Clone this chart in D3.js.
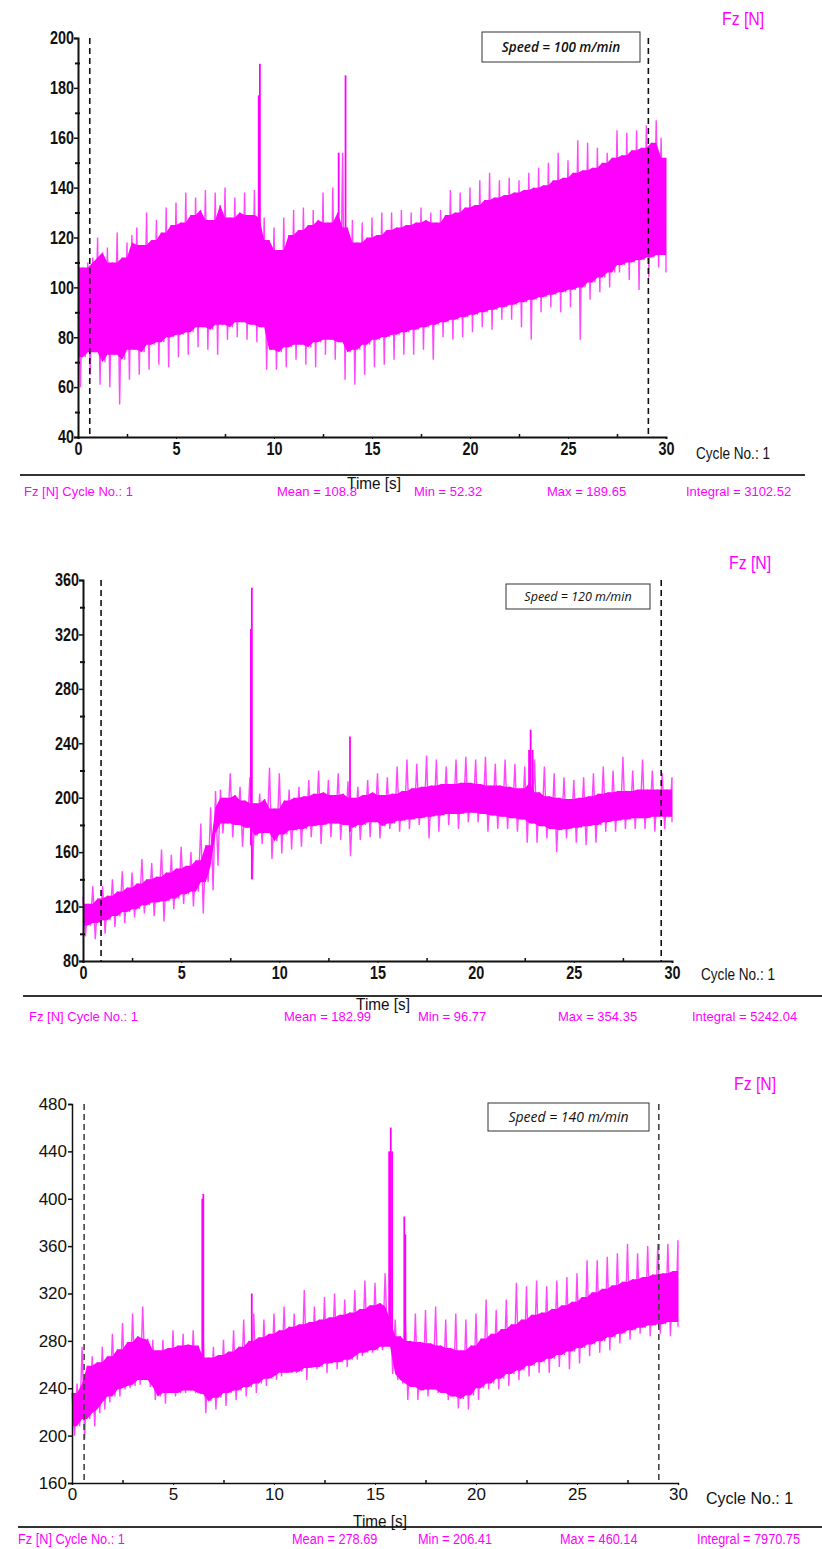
<!DOCTYPE html>
<html><head><meta charset="utf-8">
<script src="https://cdn.jsdelivr.net/npm/d3@7"></script>
<style>body{margin:0;background:#fff} svg{display:block}</style>
</head><body><svg id="c" width="822" height="1549"></svg>
<script>
// ---------------- DATA ----------------
// reading grid (s) for the upper / lower excursions of the force trace
const sampleT = d3.range(0, 30.001, 0.25);
const xTicks = [0, 5, 10, 15, 20, 25, 30];
const xMinor = [2.5, 7.5, 12.5, 17.5, 22.5, 27.5];

// Panel 1 : Speed = 100 m/min
const p1Hi = [120,108,110,112,120,114,116,110,122,112,118,121,124,117,130,119,127,122,132,125,134,126,138,129,136,131,139,127,138,133,140,128,136,130,138,129,139,131,128,119,124,115,128,121,131,123,132,125,131,127,138,126,140,130,154,124,127,118,126,120,128,121,130,123,130,124,131,125,130,126,132,127,130,126,131,129,139,130,138,132,140,133,143,135,146,136,143,137,144,138,143,139,146,140,148,141,150,143,154,144,151,146,159,147,158,148,156,150,154,152,163,153,162,155,163,156,165,158,167,160,152];
const p1Lo = [60,72,65,74,61,70,60,73,53,71,63,75,65,74,67,77,69,78,68,80,72,81,73,82,76,84,75,83,73,85,79,84,80,86,79,85,78,84,67,75,67,74,68,76,71,77,69,76,68,78,73,79,71,78,63,74,61,75,65,77,68,79,69,80,71,81,73,82,73,83,75,84,71,85,80,86,79,87,80,88,82,89,84,90,83,91,87,92,87,93,84,94,79,95,90,96,92,97,90,98,92,99,79,100,95,102,98,104,100,106,106,109,103,110,99,111,104,112,108,113,106];
const p1SpikeT = [9.22, 9.28, 13.3, 13.65];
const p1SpikeTop = [177, 189.65, 154, 185];
const p1SpikeBot = [100, 95, 110, 95];
const p1Ticks = [40, 60, 80, 100, 120, 140, 160, 180, 200];
const p1Minor = [50, 70, 90, 110, 130, 150, 170, 190];
const p1Speed = "Speed = 100 m/min";
const p1Stats = ["Fz [N] Cycle No.: 1", "Mean = 108.8", "Min = 52.32", "Max = 189.65", "Integral = 3102.52"];

// Panel 2 : Speed = 120 m/min
const p2Hi = [127,122,135,126,135,128,140,131,146,134,145,137,155,140,152,142,162,145,158,148,164,150,160,154,181,165,193,205,206,200,218,202,208,198,215,196,203,199,222,192,218,198,206,200,208,201,213,203,220,204,213,202,218,203,212,200,208,202,213,204,218,202,215,203,223,205,228,207,225,208,231,209,228,210,223,210,228,211,230,211,228,210,230,209,225,209,228,208,225,207,223,211,228,204,223,201,218,200,215,199,213,200,215,201,218,203,223,204,220,205,230,205,220,206,228,206,220,206,218,206,215];
const p2Lo = [98,106,96,108,100,110,105,113,108,116,112,118,115,121,113,123,109,124,118,126,122,129,120,131,115,138,132,150,174,181,171,180,164,178,140,172,166,174,155,168,159,173,162,176,164,177,171,179,166,180,171,181,169,180,157,178,169,180,171,182,170,179,177,181,175,183,177,184,180,185,170,186,175,187,180,188,177,188,182,189,182,188,175,187,177,186,177,185,175,184,167,181,167,179,170,177,160,176,170,177,167,178,165,179,167,180,175,182,175,183,177,184,177,185,177,185,175,186,177,186,182];
const p2SpikeT = [8.55, 8.6, 13.6, 22.72, 22.8, 22.9];
const p2SpikeTop = [324, 354.35, 245, 235, 250, 235];
const p2SpikeBot = [165, 140, 175, 185, 185, 185];
const p2Ticks = [80, 120, 160, 200, 240, 280, 320, 360];
const p2Minor = [100, 140, 180, 220, 260, 300, 340];
const p2Speed = "Speed = 120 m/min";
const p2Stats = ["Fz [N] Cycle No.: 1", "Mean = 182.99", "Min = 96.77", "Max = 354.35", "Integral = 5242.04"];

// Panel 3 : Speed = 140 m/min
const p3Hi = [236,244,275,259,267,262,275,267,286,273,295,279,303,284,309,282,281,272,281,274,289,276,286,277,289,276,280,266,275,268,281,271,289,275,298,280,303,283,298,286,303,289,309,292,303,294,323,296,309,298,317,300,320,302,315,304,323,307,331,310,329,312,337,309,298,284,300,280,303,279,306,278,309,276,298,274,303,272,298,276,303,282,315,286,306,290,315,294,329,298,326,302,331,304,326,307,331,310,334,313,337,317,348,321,348,324,351,327,354,330,362,332,354,334,360,336,362,337,362,339,365];
const p3Lo = [200,208,197,214,208,219,222,228,233,233,239,240,242,243,247,241,230,233,227,236,233,236,236,238,236,235,219,229,222,232,225,236,230,238,233,241,236,244,242,248,247,250,253,253,253,254,247,257,256,258,253,261,256,262,258,264,264,267,270,270,272,272,275,252,247,244,230,241,230,238,233,239,236,236,230,233,223,231,222,234,230,240,239,244,239,248,242,252,247,255,250,259,253,262,253,265,258,268,256,271,261,274,267,277,270,280,272,283,278,286,281,289,286,291,284,293,286,294,284,296,292];
const p3SpikeT = [6.45, 6.5, 8.9, 15.7, 15.78, 15.85, 16.45, 16.5];
const p3SpikeTop = [400, 404, 320, 440, 460.14, 440, 385, 370];
const p3SpikeBot = [240, 240, 270, 280, 280, 280, 250, 250];
const p3Ticks = [160, 200, 240, 280, 320, 360, 400, 440, 480];
const p3Minor = [180, 220, 260, 300, 340, 380, 420, 460];
const p3Speed = "Speed = 140 m/min";
const p3Stats = ["Fz [N] Cycle No.: 1", "Mean = 278.69", "Min = 206.41", "Max = 460.14", "Integral = 7970.75"];

// ---------------- LAYOUT ----------------
const MAG = "#ff00ff";
const SANS = "'Liberation Sans',Arial,sans-serif";

const panels = [
  {hi:p1Hi, lo:p1Lo, sT:p1SpikeT, sTop:p1SpikeTop, sBot:p1SpikeBot,
   ticks:p1Ticks, minor:p1Minor, speed:p1Speed, stats:p1Stats, dom:[40,200],
   x0:78, x1:666, yTop:38, yBot:437, dashL:0.6, dashR:29.1,
   box:[482,32,158,30], fz:[722,25], cyc:[696,453], rule:[20,805,475], time:[374,483], statY:496,
   statX:[24,277,414,547,686], tick:{size:18, w:"bold", sx:0.8}, stat:{size:13, sx:1}, cyc2:{size:17, sx:0.8}, speedSize:13.5},
  {hi:p2Hi, lo:p2Lo, sT:p2SpikeT, sTop:p2SpikeTop, sBot:p2SpikeBot,
   ticks:p2Ticks, minor:p2Minor, speed:p2Speed, stats:p2Stats, dom:[80,360],
   x0:83, x1:672, yTop:580, yBot:961, dashL:0.92, dashR:29.45,
   box:[506,584,144,25], fz:[729,569], cyc:[701,974], rule:[23,822,996], time:[383,1004], statY:1021,
   statX:[29,284,418,558,692], tick:{size:18, w:"bold", sx:0.8}, stat:{size:13, sx:1}, cyc2:{size:17, sx:0.8}, speedSize:12.5},
  {hi:p3Hi, lo:p3Lo, sT:p3SpikeT, sTop:p3SpikeTop, sBot:p3SpikeBot,
   ticks:p3Ticks, minor:p3Minor, speed:p3Speed, stats:p3Stats, dom:[160,480],
   x0:72, x1:678, yTop:1104, yBot:1483, dashL:0.6, dashR:29.05,
   box:[488,1103,161,28], fz:[734,1090], cyc:[706,1498], rule:[18,822,1527], time:[380,1521], statY:1544,
   statX:[18,292,418,560,697], tick:{size:17, w:"normal", sx:1}, stat:{size:15, sx:0.85}, cyc2:{size:16, sx:1}, speedSize:14}
];

const svg = d3.select('#c');
svg.append('rect').attr('width',822).attr('height',1549).attr('fill','#fff');

function label(g, x, y, s, o) {
  return g.append('text')
    .attr('transform', `translate(${x},${y}) scale(${o.sx||1},1)`)
    .attr('font-family', SANS).attr('font-size', o.size).attr('font-weight', o.w || 'normal')
    .attr('text-anchor', o.anchor || 'start').attr('dy', o.dy || null)
    .attr('fill', o.fill || '#111').text(s);
}

panels.forEach((P, k) => {
  const x = d3.scaleLinear().domain([0,30]).range([P.x0, P.x1]);
  const y = d3.scaleLinear().domain(P.dom).range([P.yBot, P.yTop]);
  const g = svg.append('g');
  const n = Math.min(sampleT.length, P.hi.length, P.lo.length);

  // dense core: the band that every neighbouring oscillation crosses
  const W = 1;
  const core = d3.range(n).map(i => {
    const a = Math.max(0, i - W), b = Math.min(n, i + W + 1);
    return {t: sampleT[i], hi: d3.min(P.hi.slice(a, b)), lo: d3.max(P.lo.slice(a, b))};
  });
  g.append('path').datum(core)
    .attr('d', d3.area().x(d=>x(d.t)).y0(d=>y(d.lo)).y1(d=>y(d.hi)))
    .attr('fill', MAG);

  // oscillating trace: each reading's high excursion followed by its low excursion
  const zz = [];
  for (let i = 0; i < n; i++) {
    zz.push([sampleT[i], P.hi[i]]);
    zz.push([Math.min(30, sampleT[i] + 0.125), P.lo[i]]);
  }
  g.append('path').datum(zz)
    .attr('d', d3.line().x(d=>x(d[0])).y(d=>y(d[1])))
    .attr('fill','none').attr('stroke', MAG).attr('stroke-width',1.4).attr('stroke-opacity',0.72)
    .attr('stroke-linejoin','bevel');

  // spikes
  g.selectAll('line.sp').data(P.sT).join('line')
    .attr('x1', t=>x(t)).attr('x2', t=>x(t))
    .attr('y1', (t,i)=>y(P.sBot[i])).attr('y2', (t,i)=>y(P.sTop[i]))
    .attr('stroke', MAG).attr('stroke-width', 1.8);

  // dashed cursors
  [P.dashL, P.dashR].forEach(t=>{
    g.append('line').attr('x1',x(t)).attr('x2',x(t)).attr('y1',P.yTop).attr('y2',P.yBot)
      .attr('stroke', k===2 ? '#444' : '#111').attr('stroke-width', 1.6).attr('stroke-dasharray','6,4');
  });

  // y axis
  const ya = g.append('g').attr('transform',`translate(${P.x0},0)`)
    .call(d3.axisLeft(y).tickValues(P.ticks).tickSize(4).tickPadding(1).tickFormat(d3.format('d')));
  ya.select('.domain').attr('stroke','#111').attr('stroke-width', k===2?1.5:2);
  ya.selectAll('.tick line').attr('stroke','#111').attr('stroke-width',1.5);
  ya.selectAll('text').attr('font-family',SANS).attr('font-weight',P.tick.w)
    .attr('font-size',P.tick.size).attr('fill','#111').attr('transform',`scale(${P.tick.sx},1)`);
  const ym = g.append('g').attr('transform',`translate(${P.x0},0)`)
    .call(d3.axisLeft(y).tickValues(P.minor).tickSize(3).tickFormat(''));
  ym.select('.domain').remove();
  ym.selectAll('.tick line').attr('stroke','#111').attr('stroke-width',2).attr('x2', k===2?-3:2).attr('x1', -3);

  // x axis
  const xa = g.append('g').attr('transform',`translate(0,${P.yBot})`)
    .call(d3.axisBottom(x).tickValues(xTicks).tickSize(2).tickPadding(3).tickFormat(d3.format('d')));
  xa.select('.domain').attr('stroke','#111').attr('stroke-width', k===2?1.5:2);
  xa.selectAll('.tick line').attr('stroke','#111');
  xa.selectAll('text').attr('font-family',SANS).attr('font-weight',P.tick.w)
    .attr('font-size',P.tick.size).attr('fill','#111').attr('transform',`scale(${P.tick.sx},1)`);
  const xm = g.append('g').attr('transform',`translate(0,${P.yBot})`)
    .call(d3.axisBottom(x).tickValues(xMinor).tickSize(-3).tickFormat(''));
  xm.select('.domain').remove();
  xm.selectAll('.tick line').attr('stroke','#111').attr('stroke-width',1.5);

  // speed box
  g.append('rect').attr('x',P.box[0]).attr('y',P.box[1]).attr('width',P.box[2]).attr('height',P.box[3])
    .attr('fill','#fff').attr('stroke','#333').attr('stroke-width',1);
  g.append('text').attr('x',P.box[0]+P.box[2]/2).attr('y',P.box[1]+P.box[3]/2)
    .attr('dy','0.35em').attr('text-anchor','middle')
    .attr('font-family',"'Open Sans','Noto Sans',sans-serif").attr('font-style','italic')
    .attr('font-weight', k===0?600:500).attr('font-size',P.speedSize).attr('fill','#111').text(P.speed);

  // Fz label
  label(g, P.fz[0], P.fz[1], 'Fz [N]', {size:18, sx:0.88, fill:MAG});
  // cycle label
  label(g, P.cyc[0], P.cyc[1], 'Cycle No.: 1', {size:P.cyc2.size, sx:P.cyc2.sx, dy:'0.35em'});
  // rule
  g.append('line').attr('x1',P.rule[0]).attr('x2',P.rule[1]).attr('y1',P.rule[2]).attr('y2',P.rule[2])
    .attr('stroke','#333').attr('stroke-width',2);
  // stats
  P.stats.forEach((s,i)=> label(g, P.statX[i], P.statY, s, {size:P.stat.size, sx:P.stat.sx, fill:MAG}));
  // Time label
  label(g, P.time[0], P.time[1], 'Time [s]', {size:17, sx:0.9, anchor:'middle', dy:'0.35em'});
});
</script></body></html>
